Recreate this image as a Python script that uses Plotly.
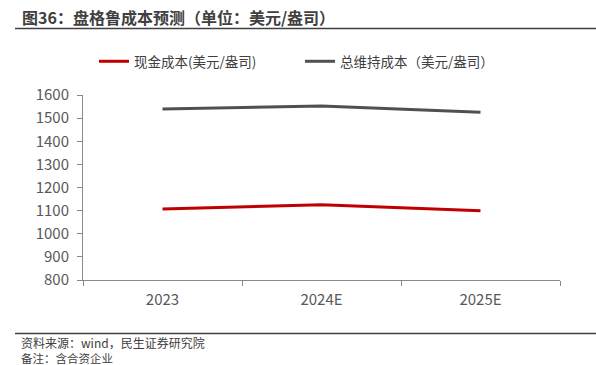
import plotly.graph_objects as go

categories = ["2023", "2024E", "2025E"]
cash_cost = [1107, 1125, 1100]
aisc = [1540, 1552, 1525]
series_names = ["现金成本(美元/盎司)", "总维持成本（美元/盎司）"]
y_ticks = [800, 900, 1000, 1100, 1200, 1300, 1400, 1500, 1600]

FONT = "Noto Sans CJK SC, Microsoft YaHei, sans-serif"
L, R, T, B = 83, 36, 95, 85
PH = 365 - T - B
PW = 596 - L - R


def px(x):
    return (x - L) / PW


def py(y):
    return (365 - B - y) / PH


fig = go.Figure()
fig.add_trace(go.Scatter(x=categories, y=cash_cost, mode="lines", name=series_names[0],
                         line=dict(color="#C00000", width=3)))
fig.add_trace(go.Scatter(x=categories, y=aisc, mode="lines", name=series_names[1],
                         line=dict(color="#505050", width=3)))

fig.update_layout(
    width=596, height=365,
    margin=dict(l=L, r=R, t=T, b=B, autoexpand=False),
    paper_bgcolor="white", plot_bgcolor="white",
    font=dict(family=FONT, size=14, color="#595959"),
    showlegend=True,
    legend=dict(orientation="h", x=px(94), y=1 - 46 / 365, xref="paper", yref="container",
                xanchor="left", yanchor="top", entrywidth=161,
                font=dict(size=13.5, color="#404040"), itemwidth=30,
                traceorder="normal"),
    xaxis=dict(type="category", range=[-0.5, 2.5], showline=True, linecolor="#898989",
               linewidth=1, ticks="outside", tickson="boundaries", ticklen=5,
               tickcolor="#898989", showgrid=False, tickfont=dict(size=15, color="#595959"),
               ticklabelstandoff=6, fixedrange=True),
    yaxis=dict(range=[800, 1600], tickvals=y_ticks, showline=True, linecolor="#898989",
               linewidth=1, ticks="outside", ticklen=5, tickcolor="#898989",
               showgrid=False, zeroline=False, tickfont=dict(size=15, color="#595959"),
               ticklabelstandoff=5, fixedrange=True),
)

fig.add_annotation(text="<b>图36：盘格鲁成本预测（单位：美元/盎司）</b>", xref="paper", yref="paper",
                   x=px(20), y=py(17), xanchor="left", yanchor="middle",
                   showarrow=False, font=dict(size=16, color="#404040", family=FONT))
fig.add_shape(type="line", xref="paper", yref="paper",
              x0=px(15), x1=px(596), y0=py(28.5), y1=py(28.5),
              line=dict(color="#404040", width=1.5))
fig.add_shape(type="line", xref="paper", yref="paper",
              x0=px(15), x1=px(596), y0=py(333.5), y1=py(333.5),
              line=dict(color="#404040", width=1.5))
fig.add_annotation(text="资料来源：wind，民生证券研究院", xref="paper", yref="paper",
                   x=px(20), y=py(342), xanchor="left", yanchor="middle", borderpad=0,
                   showarrow=False, font=dict(size=12, color="#404040", family=FONT))
fig.add_annotation(text="备注：含合资企业", xref="paper", yref="paper",
                   x=px(20), y=py(357.5), xanchor="left", yanchor="middle", borderpad=0,
                   showarrow=False, font=dict(size=11.5, color="#404040", family=FONT))

fig.write_html("out.html", config={"displayModeBar": False},
               post_script="document.body.style.margin='0px';")
